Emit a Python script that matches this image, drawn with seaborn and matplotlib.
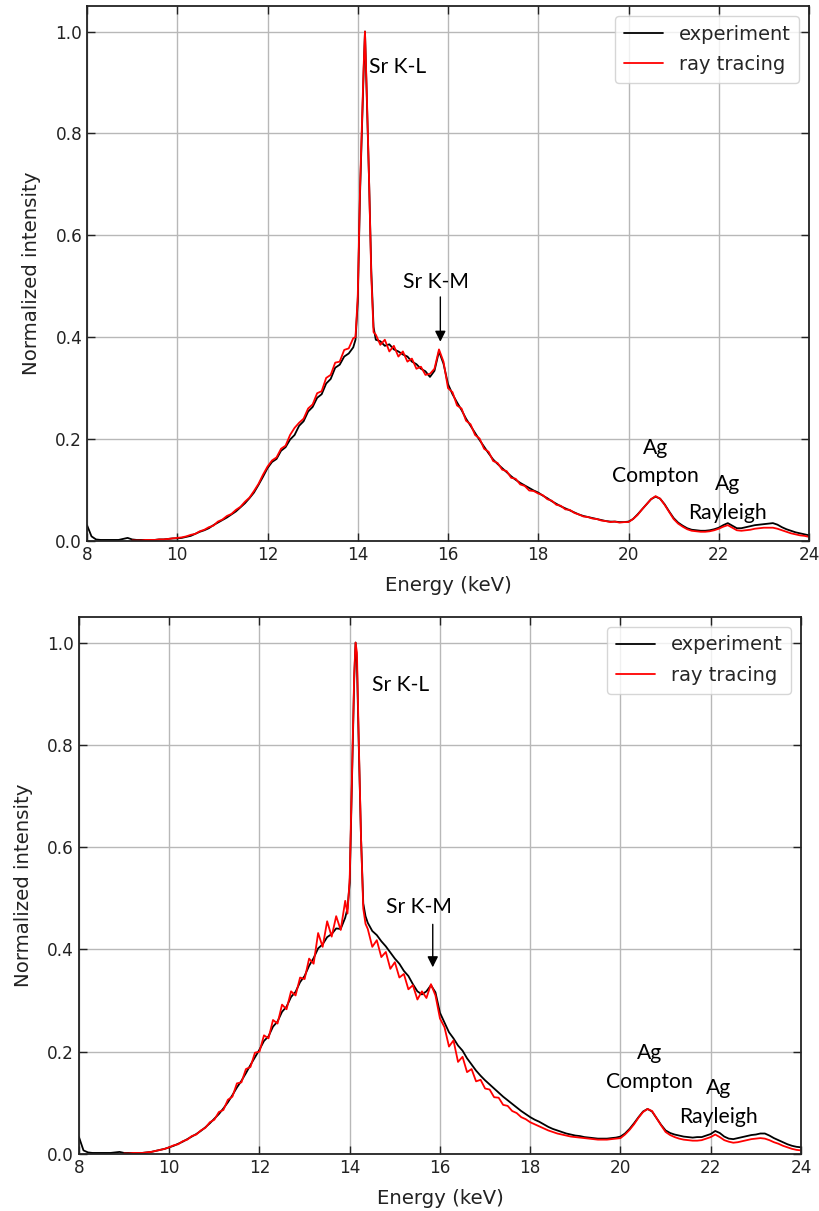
import numpy as np
import pandas as pd
import matplotlib
matplotlib.use("Agg")
import matplotlib.pyplot as plt
import seaborn as sns

nan = np.nan

# shared energy grid (keV), finer around the Sr K-L line
energy_keV = [
    8.0, 8.1, 8.2, 8.3, 8.4, 8.5, 8.6, 8.7, 8.8, 8.9,
    9.0, 9.1, 9.2, 9.3, 9.4, 9.5, 9.6, 9.7, 9.8, 9.9,
    10.0, 10.1, 10.2, 10.3, 10.4, 10.5, 10.6, 10.7, 10.8, 10.9,
    11.0, 11.1, 11.2, 11.3, 11.4, 11.5, 11.6, 11.7, 11.8, 11.9,
    12.0, 12.1, 12.2, 12.3, 12.4, 12.5, 12.6, 12.7, 12.8, 12.9,
    13.0, 13.1, 13.2, 13.3, 13.4, 13.5, 13.6, 13.7, 13.8,
    13.9, 13.95, 14.0, 14.05, 14.1, 14.13, 14.16, 14.2, 14.25, 14.3, 14.35, 14.4,
    14.5, 14.6, 14.7, 14.8, 14.9,
    15.0, 15.1, 15.2, 15.3, 15.4, 15.5, 15.6, 15.7, 15.8, 15.9,
    16.0, 16.1, 16.2, 16.3, 16.4, 16.5, 16.6, 16.7, 16.8, 16.9,
    17.0, 17.1, 17.2, 17.3, 17.4, 17.5, 17.6, 17.7, 17.8, 17.9,
    18.0, 18.1, 18.2, 18.3, 18.4, 18.5, 18.6, 18.7, 18.8, 18.9,
    19.0, 19.1, 19.2, 19.3, 19.4, 19.5, 19.6, 19.7, 19.8, 19.9,
    20.0, 20.1, 20.2, 20.3, 20.4, 20.5, 20.6, 20.7, 20.8, 20.9,
    21.0, 21.1, 21.2, 21.3, 21.4, 21.5, 21.6, 21.7, 21.8, 21.9,
    22.0, 22.1, 22.2, 22.3, 22.4, 22.5, 22.6, 22.7, 22.8, 22.9,
    23.0, 23.1, 23.2, 23.3, 23.4, 23.5, 23.6, 23.7, 23.8, 23.9,
    24.0,
]

# top panel
top_experiment = [
    0.031, 0.009, 0.003, 0.002, 0.002, 0.002, 0.002, 0.002, 0.004, 0.006,
    0.003, 0.002, 0.002, 0.002, 0.002, 0.002, 0.003, 0.003, 0.004, 0.005,
    0.005, 0.006, 0.008, 0.010, 0.014, 0.018, 0.021, 0.025, 0.031, 0.036,
    0.041, 0.046, 0.052, 0.058, 0.066, 0.074, 0.084, 0.095, 0.110, 0.126,
    0.143, 0.155, 0.161, 0.177, 0.184, 0.199, 0.208, 0.226, 0.235, 0.254,
    0.263, 0.281, 0.288, 0.309, 0.318, 0.340, 0.346, 0.362, 0.368,
    0.380, 0.395, 0.47, 0.68, 0.83, 0.92, 1.0, 0.87, 0.71, 0.53, 0.42, 0.395,
    0.392, 0.383, 0.386, 0.376, 0.372,
    0.366, 0.362, 0.352, 0.347, 0.338, 0.333, 0.322, 0.334, 0.372, 0.348,
    0.308, 0.288, 0.272, 0.257, 0.240, 0.226, 0.212, 0.198, 0.185, 0.172,
    0.160, 0.151, 0.143, 0.135, 0.127, 0.120, 0.114, 0.109, 0.104, 0.099,
    0.095, 0.089, 0.084, 0.078, 0.073, 0.068, 0.064, 0.060, 0.056, 0.052,
    0.049, 0.047, 0.045, 0.043, 0.041, 0.039, 0.038, 0.038, 0.037, 0.037,
    0.038, 0.043, 0.052, 0.062, 0.072, 0.082, 0.087, 0.083, 0.072, 0.058,
    0.045, 0.036, 0.030, 0.025, 0.022, 0.021, 0.020, 0.020, 0.021, 0.023,
    0.026, 0.031, 0.035, 0.030, 0.025, 0.025, 0.027, 0.029, 0.031, 0.032,
    0.033, 0.034, 0.035, 0.032, 0.027, 0.023, 0.020, 0.017, 0.015, 0.013,
    0.011,
]
top_ray_tracing = [
    nan, nan, nan, nan, nan, nan, nan, nan, nan, nan,
    0.001, 0.001, 0.001, 0.002, 0.002, 0.002, 0.003, 0.003, 0.004, 0.005,
    0.006, 0.007, 0.009, 0.012, 0.014, 0.019, 0.022, 0.027, 0.030, 0.038,
    0.042, 0.049, 0.053, 0.061, 0.067, 0.077, 0.085, 0.098, 0.112, 0.130,
    0.146, 0.158, 0.164, 0.181, 0.187, 0.208, 0.222, 0.232, 0.240, 0.260,
    0.268, 0.290, 0.294, 0.320, 0.326, 0.350, 0.352, 0.375, 0.378,
    0.398, 0.400, 0.48, 0.69, 0.84, 0.93, 1.0, 0.88, 0.71, 0.52, 0.41, 0.405,
    0.385, 0.395, 0.372, 0.383, 0.362,
    0.372, 0.352, 0.358, 0.338, 0.342, 0.326, 0.328, 0.338, 0.376, 0.352,
    0.300, 0.292, 0.266, 0.260, 0.236, 0.229, 0.208, 0.201, 0.181, 0.175,
    0.157, 0.153, 0.140, 0.137, 0.124, 0.122, 0.111, 0.108, 0.099, 0.098,
    0.093, 0.090, 0.082, 0.079, 0.071, 0.069, 0.062, 0.061, 0.055, 0.052,
    0.048, 0.047, 0.044, 0.043, 0.040, 0.039, 0.037, 0.038, 0.036, 0.037,
    0.037, 0.043, 0.051, 0.062, 0.072, 0.082, 0.088, 0.083, 0.071, 0.057,
    0.043, 0.034, 0.028, 0.023, 0.020, 0.019, 0.018, 0.018, 0.019, 0.021,
    0.024, 0.028, 0.031, 0.026, 0.021, 0.020, 0.021, 0.022, 0.024, 0.025,
    0.026, 0.026, 0.026, 0.024, 0.021, 0.018, 0.015, 0.013, 0.011, 0.010,
    0.008,
]

# bottom panel
bottom_experiment = [
    0.033, 0.007, 0.003, 0.002, 0.002, 0.002, 0.002, 0.002, 0.003, 0.004,
    0.002, 0.002, 0.002, 0.002, 0.002, 0.003, 0.004, 0.006, 0.008, 0.010,
    0.013, 0.016, 0.020, 0.024, 0.029, 0.034, 0.039, 0.045, 0.052, 0.060,
    0.069, 0.078, 0.089, 0.101, 0.115, 0.130, 0.143, 0.158, 0.174, 0.189,
    0.204, 0.221, 0.230, 0.249, 0.259, 0.278, 0.288, 0.307, 0.317, 0.336,
    0.348, 0.368, 0.383, 0.402, 0.410, 0.424, 0.430, 0.441, 0.440,
    0.462, 0.48, 0.53, 0.73, 0.93, 1.0, 0.96, 0.80, 0.62, 0.49, 0.465, 0.452,
    0.436, 0.428, 0.416, 0.406, 0.394,
    0.382, 0.372, 0.358, 0.348, 0.332, 0.318, 0.312, 0.318, 0.330, 0.316,
    0.276, 0.257, 0.238, 0.226, 0.212, 0.202, 0.187, 0.175, 0.163, 0.153,
    0.144, 0.136, 0.128, 0.120, 0.112, 0.105, 0.098, 0.091, 0.084, 0.078,
    0.072, 0.067, 0.063, 0.058, 0.053, 0.049, 0.046, 0.043, 0.040, 0.038,
    0.036, 0.035, 0.033, 0.032, 0.031, 0.030, 0.030, 0.030, 0.031, 0.032,
    0.034, 0.040, 0.049, 0.060, 0.072, 0.083, 0.088, 0.083, 0.070, 0.057,
    0.046, 0.041, 0.038, 0.036, 0.034, 0.033, 0.032, 0.033, 0.033, 0.036,
    0.039, 0.045, 0.041, 0.034, 0.030, 0.029, 0.031, 0.033, 0.035, 0.037,
    0.038, 0.040, 0.040, 0.036, 0.031, 0.027, 0.023, 0.019, 0.016, 0.014,
    0.013,
]
bottom_ray_tracing = [
    nan, nan, nan, nan, nan, nan, nan, nan, nan, nan,
    0.001, 0.001, 0.002, 0.002, 0.002, 0.003, 0.004, 0.006, 0.008, 0.010,
    0.013, 0.017, 0.019, 0.025, 0.028, 0.035, 0.038, 0.046, 0.051, 0.062,
    0.067, 0.082, 0.086, 0.106, 0.112, 0.138, 0.140, 0.166, 0.170, 0.198,
    0.200, 0.232, 0.226, 0.262, 0.255, 0.292, 0.283, 0.318, 0.310, 0.345,
    0.342, 0.382, 0.372, 0.432, 0.405, 0.455, 0.425, 0.465, 0.438,
    0.495, 0.47, 0.54, 0.74, 0.94, 1.0, 0.98, 0.81, 0.62, 0.48, 0.45, 0.44,
    0.405, 0.418, 0.385, 0.395, 0.362,
    0.375, 0.345, 0.352, 0.322, 0.330, 0.302, 0.318, 0.305, 0.332, 0.310,
    0.265, 0.248, 0.210, 0.222, 0.180, 0.190, 0.160, 0.166, 0.142, 0.145,
    0.128, 0.126, 0.111, 0.110, 0.096, 0.094, 0.084, 0.080, 0.072, 0.068,
    0.062, 0.058, 0.054, 0.050, 0.046, 0.043, 0.040, 0.038, 0.036, 0.034,
    0.033, 0.032, 0.031, 0.030, 0.029, 0.028, 0.028, 0.028, 0.029, 0.030,
    0.031, 0.038, 0.047, 0.058, 0.071, 0.082, 0.088, 0.084, 0.070, 0.056,
    0.043, 0.037, 0.033, 0.030, 0.028, 0.027, 0.026, 0.026, 0.027, 0.030,
    0.033, 0.038, 0.033, 0.027, 0.024, 0.022, 0.023, 0.025, 0.027, 0.029,
    0.030, 0.031, 0.030, 0.027, 0.023, 0.020, 0.016, 0.013, 0.010, 0.008,
    0.007,
]

series_names = ["experiment", "ray tracing"]
series_colors = {"experiment": "black", "ray tracing": "red"}
x_ticks = [8, 10, 12, 14, 16, 18, 20, 22, 24]
y_ticks = [0.0, 0.2, 0.4, 0.6, 0.8, 1.0]

# label positions (energy, intensity) per panel
top_labels = {"Sr K-L": (14.88, 0.93), "Sr K-M": (15.74, 0.509),
              "Ag\nCompton": (20.59, 0.155), "Ag\nRayleigh": (22.19, 0.084)}
top_arrow = (15.83, 0.479, 0.391)
bottom_labels = {"Sr K-L": (15.13, 0.918), "Sr K-M": (15.54, 0.482),
                 "Ag\nCompton": (20.65, 0.169), "Ag\nRayleigh": (22.18, 0.101)}
bottom_arrow = (15.84, 0.449, 0.365)

for s in [top_experiment, top_ray_tracing, bottom_experiment, bottom_ray_tracing]:
    assert len(s) == len(energy_keV), len(s)


def spectrum_frame(exp, ray):
    n = len(energy_keV)
    return pd.DataFrame({
        "energy": energy_keV * 2,
        "intensity": exp + ray,
        "series": [series_names[0]] * n + [series_names[1]] * n,
    })


sns.set_style("ticks", {"xtick.direction": "in", "ytick.direction": "in"})
plt.rcParams["font.family"] = ["DejaVu Sans"]

fig = plt.figure(figsize=(8.2, 12.11), dpi=100)
ax_top = fig.add_axes([0.1061, 0.5533, 0.8805, 0.4417])
ax_bot = fig.add_axes([0.0963, 0.0471, 0.8805, 0.4434])

panels = [
    (ax_top, spectrum_frame(top_experiment, top_ray_tracing), top_labels, top_arrow),
    (ax_bot, spectrum_frame(bottom_experiment, bottom_ray_tracing), bottom_labels, bottom_arrow),
]

for ax, df, labels, arrow in panels:
    sns.lineplot(data=df, x="energy", y="intensity", hue="series",
                 palette=series_colors, estimator=None, sort=False,
                 linewidth=1.3, ax=ax)
    ax.set_xlim(8, 24)
    ax.set_ylim(0, 1.05)
    ax.set_xticks(x_ticks)
    ax.set_yticks(y_ticks)
    ax.set_yticklabels([f"{v:.1f}" for v in y_ticks])
    ax.grid(True, color="#b8b8b8", linewidth=1.0)
    ax.set_axisbelow(True)
    ax.tick_params(direction="in", top=True, right=True, length=5.5,
                   width=1.0, labelsize=12.2, colors="#222222")
    for sp in ax.spines.values():
        sp.set_visible(True)
        sp.set_color("#222222")
        sp.set_linewidth(1.3)
    ax.set_xlabel("Energy (keV)", fontsize=14.2, labelpad=9, color="#222222")
    ax.set_ylabel("Normalized intensity", fontsize=14.2, labelpad=10, color="#222222")

    handles, names = ax.get_legend_handles_labels()
    ax.legend(handles, names, loc="upper right", fontsize=14,
              handlelength=2.0, labelspacing=0.6, framealpha=0.8,
              borderpad=0.45)

    for text, (ex, iy) in labels.items():
        ax.text(ex, iy, text, ha="center", va="center", fontsize=15.2,
                family=["Lato", "DejaVu Sans"], linespacing=1.55, color="black")
    ax_x, y0, y1 = arrow
    ax.annotate("", xy=(ax_x, y1), xytext=(ax_x, y0),
                arrowprops=dict(arrowstyle="-|>", color="black", lw=1.0,
                                mutation_scale=16, shrinkA=0, shrinkB=0))

fig.savefig("out.png", dpi=100)
